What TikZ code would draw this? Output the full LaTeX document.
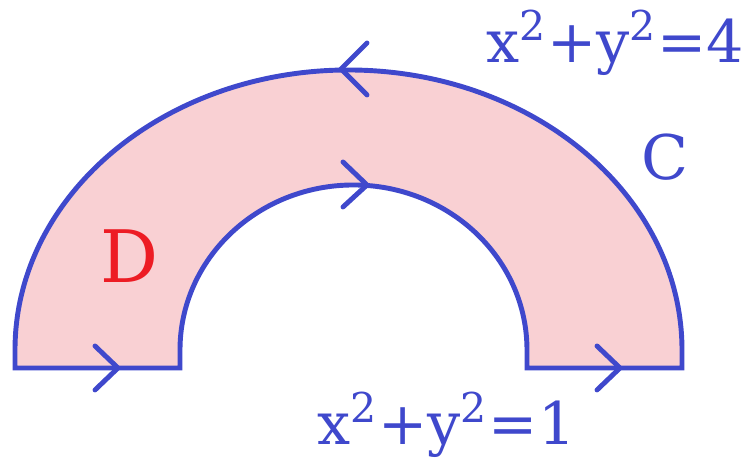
\documentclass[tikz,border=0pt]{standalone}
\usepackage{fontspec}
\setmainfont{DejaVu Serif}
\usepackage{tikz}
\definecolor{curvec}{HTML}{3F48CC}
\definecolor{regionc}{HTML}{F9D0D3}
\definecolor{labelred}{HTML}{ED1C24}

\begin{document}
\begin{tikzpicture}[line width=1.4pt,
    chev/.style={curvec, line cap=round},
    eqlabel/.style={curvec, inner sep=0pt, anchor=base, font=\fontsize{16.7}{20}\selectfont}]
    \useasboundingbox (0,0) rectangle (7.47,4.63);
    \filldraw[fill=regionc, draw=curvec] (0.15,0.95) -- (0.15,1.13)
      arc[start angle=180, end angle=0, x radius=3.335, y radius=2.8] -- (6.82,0.95)
      -- (5.27,0.95) -- (5.27,1.13)
      arc[start angle=0, end angle=180, x radius=1.735, y radius=1.65] -- (1.8,0.95) -- cycle;
    \draw[chev] (1.18,0.95) +(-0.23,0.22) -- +(0,0) -- +(-0.23,-0.22);
    \draw[chev] (6.2,0.95) +(-0.23,0.22) -- +(0,0) -- +(-0.23,-0.22);
    \draw[chev] (3.41,3.94) +(0.26,0.26) -- +(0,0) -- +(0.26,-0.26);
    \draw[chev] (3.67,2.78) +(-0.24,0.23) -- +(0,0) -- +(-0.24,-0.22);
    \node[eqlabel] (outereq) at (6.15,4.0) {x\textsuperscript{2}+y\textsuperscript{2}=4};
    \node[eqlabel] (innereq) at (4.465,0.18) {x\textsuperscript{2}+y\textsuperscript{2}=1};
    \node[curvec, inner sep=0pt, anchor=base, font=\fontsize{17.5}{20}\selectfont] (curveC) at (6.65,2.83) {C};
    \node[labelred, inner sep=0pt, anchor=base, font=\fontsize{20.6}{24}\selectfont] (regionD) at (1.295,1.8) {D};
\end{tikzpicture}
\end{document}
